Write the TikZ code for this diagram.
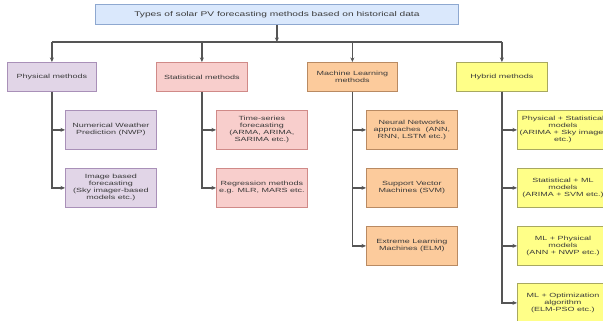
\documentclass[tikz,border=0pt]{standalone}
\usepackage{fontspec}
\setmainfont{Liberation Sans}[FakeStretch=1.5]
\usetikzlibrary{arrows.meta}
\definecolor{tfill}{HTML}{DAE8FC}\definecolor{tdraw}{HTML}{8EA8D0}
\definecolor{pfill}{HTML}{E1D5E7}\definecolor{pdraw}{HTML}{A990B8}
\definecolor{sfill}{HTML}{F8CECC}\definecolor{sdraw}{HTML}{D08A88}
\definecolor{mfill}{HTML}{FCCB9C}\definecolor{mdraw}{HTML}{B98A62}
\definecolor{hfill}{HTML}{FFFF88}\definecolor{hdraw}{HTML}{A8A860}
\definecolor{txt}{HTML}{3A3A3A}
\definecolor{wire}{HTML}{555555}
\begin{document}
\begin{tikzpicture}[x=1pt,y=-1pt,
  box/.style={draw, line width=0.8pt, text=txt, align=center, inner sep=0pt,
    font=\fontsize{6}{7}\selectfont, anchor=north west},
  lvl/.style={box, minimum height=29pt},
  sub/.style={box, minimum width=91pt, minimum height=39pt},
  phy/.style={fill=pfill, draw=pdraw},
  sta/.style={fill=sfill, draw=sdraw},
  mac/.style={fill=mfill, draw=mdraw},
  hyb/.style={fill=hfill, draw=hdraw},
  wireline/.style={draw=wire, line width=1.2pt},
  conn/.style={wireline, -{Stealth[length=4.5pt,width=4pt]}}]
\useasboundingbox (0,0) rectangle (603,321);
\clip (0,0) rectangle (603,321);
% title
\node[box, fill=tfill, draw=tdraw, minimum width=363pt, minimum height=20pt,
  font=\fontsize{6.8}{7}\selectfont] (title) at (95,4)
  {Types of solar PV forecasting methods based on historical data};
% level 1
\node[lvl, phy, minimum width=89pt] (phys) at (7,62) {Physical methods};
\node[lvl, sta, minimum width=91pt] (stat) at (156,62) {Statistical methods};
\node[lvl, mac, minimum width=90pt] (ml) at (307,62) {Machine Learning\\methods};
\node[lvl, hyb, minimum width=91pt] (hy) at (456,62) {Hybrid methods};
% physical
\node[sub, phy] (nwp) at (65,110) {Numerical Weather\\Prediction (NWP)};
\node[sub, phy] (img) at (65,168) {Image based\\forecasting\\(Sky imager-based\\models etc.)};
% statistical
\node[sub, sta] (ts) at (216,110) {Time-series\\forecasting\\(ARMA, ARIMA,\\SARIMA etc.)};
\node[sub, sta] (reg) at (216,168) {Regression methods\\e.g. MLR, MARS etc.};
% machine learning
\node[sub, mac] (nn) at (366,110) {Neural Networks\\approaches \ (ANN,\\RNN, LSTM etc.)};
\node[sub, mac] (svm) at (366,168) {Support Vector\\Machines (SVM)};
\node[sub, mac] (elm) at (366,226) {Extreme Learning\\Machines (ELM)};
% hybrid
\node[sub, hyb] (h1) at (517,110) {Physical + Statistical\\models\\(ARIMA + Sky imager\\etc.)};
\node[sub, hyb] (h2) at (517,168) {Statistical + ML\\models\\(ARIMA + SVM etc.)};
\node[sub, hyb] (h3) at (517,226) {ML + Physical\\models\\(ANN + NWP etc.)};
\node[sub, hyb] (h4) at (517,283) {ML + Optimization\\algorithm\\(ELM-PSO etc.)};
% connectors
\coordinate (bar) at (0,42);
\draw[conn] (title.south) -- (title.south |- bar);
\draw[wireline] (phys.north |- bar) -- (hy.north |- bar);
\foreach \n in {phys,stat,ml,hy}{\draw[conn] (\n.north |- bar) -- (\n.north);}
\draw[conn] (phys.south) |- (nwp.west);
\draw[conn] (phys.south) |- (img.west);
\draw[conn] (stat.south) |- (ts.west);
\draw[conn] (stat.south) |- (reg.west);
\draw[conn] (ml.south) |- (nn.west);
\draw[conn] (ml.south) |- (svm.west);
\draw[conn] (ml.south) |- (elm.west);
\draw[conn] (hy.south) |- (h1.west);
\draw[conn] (hy.south) |- (h2.west);
\draw[conn] (hy.south) |- (h3.west);
\draw[conn] (hy.south) |- (h4.west);
\end{tikzpicture}
\end{document}
